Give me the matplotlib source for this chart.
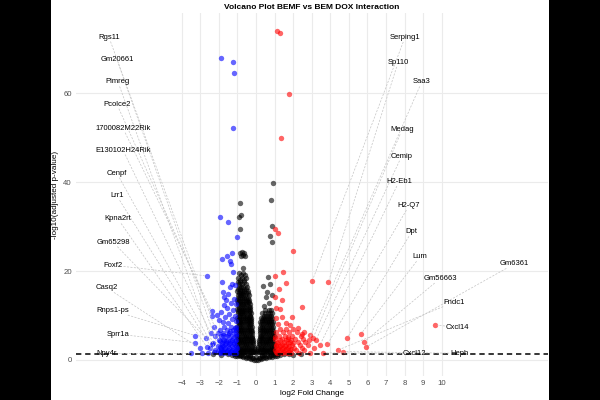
import matplotlib.pyplot as plt
import numpy as np

plt.rcParams['font.family'] = ['Liberation Sans', 'DejaVu Sans']

# not significant / small fold change (log2FC, -log10 padj)
ns_points = [
    (0.9, 39.7), (0.8, 36.0), (-0.86, 35.3), (-0.92, 32.2), (-0.79, 32.6), (0.88, 30.1),
    (-0.86, 29.4), (0.75, 27.9), (0.86, 26.5), (-0.86, 24.0), (-0.75, 24.2), (-0.65, 24.0),
    (-0.8, 23.4), (-0.7, 23.5), (-0.6, 23.4),
    (-0.68, 20.6), (-0.68, 19.5), (-0.9, 19.5), (-0.8, 19.0), (-0.6, 19.0),
    (-0.95, 18.4), (-0.75, 18.4), (-0.55, 18.4), (-0.88, 18.0), (-0.66, 18.0),
    (-0.98, 17.5), (-0.85, 17.5), (-0.62, 17.5), (-0.92, 17.0), (-0.74, 17.0), (-0.55, 17.0),
    (-0.92, 16.5), (-0.8, 16.5), (-0.72, 16.5), (-0.5, 16.5),
    (-0.98, 16.0), (-0.86, 16.0), (-0.66, 16.0), (-0.56, 16.0),
    (-1.0, 15.5), (-0.85, 15.5), (-0.75, 15.5), (-0.65, 15.5), (-0.45, 15.5),
    (-0.94, 15.0), (-0.8, 15.0), (-0.7, 15.0), (-0.55, 15.0), (-0.42, 15.0),
    (-0.95, 14.5), (-0.88, 14.5), (-0.8, 14.5), (-0.7, 14.5), (-0.6, 14.5), (-0.4, 14.5),
    (-0.98, 14.0), (-0.84, 14.0), (-0.74, 14.0), (-0.66, 14.0), (-0.54, 14.0), (-0.45, 14.0),
    (-1.0, 13.5), (-0.9, 13.5), (-0.78, 13.5), (-0.62, 13.5), (-0.5, 13.5), (-0.35, 13.5),
    (-0.96, 13.0), (-0.84, 13.0), (-0.72, 13.0), (-0.56, 13.0), (-0.44, 13.0), (-0.38, 13.0),
    (-0.98, 12.5), (-0.86, 12.5), (-0.74, 12.5), (-0.68, 12.5), (-0.6, 12.5), (-0.48, 12.5), (-0.32, 12.5),
    (-0.94, 12.0), (-0.8, 12.0), (-0.64, 12.0), (-0.54, 12.0), (-0.4, 12.0), (-0.34, 12.0),
    (-1.0, 11.5), (-0.9, 11.5), (-0.8, 11.5), (-0.7, 11.5), (-0.58, 11.5), (-0.44, 11.5), (-0.3, 11.5),
    (-0.96, 11.0), (-0.85, 11.0), (-0.74, 11.0), (-0.64, 11.0), (-0.52, 11.0), (-0.38, 11.0), (-0.32, 11.0),
    (-0.98, 10.5), (-0.88, 10.5), (-0.82, 10.5), (-0.76, 10.5), (-0.64, 10.5), (-0.52, 10.5), (-0.4, 10.5), (-0.28, 10.5),
    (-0.94, 10.0), (-0.84, 10.0), (-0.7, 10.0), (-0.58, 10.0), (-0.46, 10.0), (-0.34, 10.0), (-0.3, 10.0),
    (-1.0, 9.5), (-0.9, 9.5), (-0.8, 9.5), (-0.7, 9.5), (-0.6, 9.5), (-0.48, 9.5), (-0.36, 9.5), (-0.26, 9.5),
    (-0.96, 9.0), (-0.84, 9.0), (-0.68, 9.0), (-0.56, 9.0), (-0.44, 9.0), (-0.32, 9.0), (-0.28, 9.0),
    (-0.98, 8.5), (-0.92, 8.5), (-0.86, 8.5), (-0.74, 8.5), (-0.62, 8.5), (-0.5, 8.5), (-0.38, 8.5), (-0.26, 8.5),
    (-0.94, 8.0), (-0.8, 8.0), (-0.68, 8.0), (-0.56, 8.0), (-0.44, 8.0), (-0.32, 8.0), (-0.27, 8.0),
    (-1.0, 7.5), (-0.9, 7.5), (-0.8, 7.5), (-0.68, 7.5), (-0.56, 7.5), (-0.44, 7.5), (-0.32, 7.5), (-0.24, 7.5),
    (-0.96, 7.0), (-0.84, 7.0), (-0.74, 7.0), (-0.62, 7.0), (-0.5, 7.0), (-0.38, 7.0), (-0.28, 7.0),
    (-0.98, 6.5), (-0.86, 6.5), (-0.74, 6.5), (-0.62, 6.5), (-0.5, 6.5), (-0.38, 6.5), (-0.28, 6.5), (-0.22, 6.5),
    (-0.94, 6.0), (-0.82, 6.0), (-0.7, 6.0), (-0.58, 6.0), (-0.46, 6.0), (-0.34, 6.0), (-0.24, 6.0),
    (-1.0, 5.5), (-0.9, 5.5), (-0.78, 5.5), (-0.66, 5.5), (-0.54, 5.5), (-0.42, 5.5), (-0.3, 5.5), (-0.2, 5.5),
    (-0.96, 5.0), (-0.84, 5.0), (-0.72, 5.0), (-0.6, 5.0), (-0.48, 5.0), (-0.36, 5.0), (-0.24, 5.0), (-0.19, 5.0),
    (-0.98, 4.5), (-0.86, 4.5), (-0.74, 4.5), (-0.62, 4.5), (-0.5, 4.5), (-0.38, 4.5), (-0.26, 4.5), (-0.18, 4.5),
    (-0.94, 4.0), (-0.82, 4.0), (-0.7, 4.0), (-0.58, 4.0), (-0.46, 4.0), (-0.34, 4.0), (-0.22, 4.0), (-0.16, 4.0),
    (-1.0, 3.5), (-0.9, 3.5), (-0.78, 3.5), (-0.66, 3.5), (-0.54, 3.5), (-0.42, 3.5), (-0.3, 3.5), (-0.15, 3.5),
    (-0.96, 3.0), (-0.84, 3.0), (-0.72, 3.0), (-0.6, 3.0), (-0.48, 3.0), (-0.36, 3.0), (-0.24, 3.0), (-0.13, 3.0),
    (-0.98, 2.5), (-0.86, 2.5), (-0.74, 2.5), (-0.62, 2.5), (-0.5, 2.5), (-0.38, 2.5), (-0.26, 2.5), (-0.1, 2.5),
    (-0.94, 2.1), (-0.82, 2.1), (-0.7, 2.1), (-0.58, 2.1), (-0.46, 2.1), (-0.34, 2.1), (-0.22, 2.1), (-0.1, 2.1),
    (-1.0, 1.7), (-0.88, 1.7), (-0.76, 1.7), (-0.64, 1.7), (-0.52, 1.7), (-0.4, 1.7), (-0.28, 1.7), (-0.16, 1.7), (-0.06, 1.7),
    (0.63, 18.7), (0.75, 17.1), (0.39, 16.6), (0.61, 15.3), (0.84, 14.6), (0.54, 14.1), (0.7, 12.8), (0.45, 12.2),
    (0.5, 11.3), (0.68, 11.3), (0.8, 11.3),
    (0.35, 10.5), (0.5, 10.5), (0.62, 10.5), (0.74, 10.5), (0.85, 10.5),
    (0.42, 10.0), (0.56, 10.0), (0.68, 10.0), (0.8, 10.0),
    (0.25, 9.5), (0.38, 9.5), (0.5, 9.5), (0.62, 9.5), (0.74, 9.5), (0.86, 9.5),
    (0.3, 9.0), (0.44, 9.0), (0.56, 9.0), (0.68, 9.0), (0.8, 9.0),
    (0.22, 8.5), (0.34, 8.5), (0.46, 8.5), (0.58, 8.5), (0.7, 8.5), (0.82, 8.5), (0.92, 8.5),
    (0.26, 8.0), (0.4, 8.0), (0.52, 8.0), (0.64, 8.0), (0.76, 8.0), (0.88, 8.0),
    (0.2, 7.5), (0.32, 7.5), (0.44, 7.5), (0.56, 7.5), (0.68, 7.5), (0.8, 7.5), (0.92, 7.5),
    (0.24, 7.0), (0.38, 7.0), (0.5, 7.0), (0.62, 7.0), (0.74, 7.0), (0.86, 7.0),
    (0.2, 6.5), (0.3, 6.5), (0.42, 6.5), (0.54, 6.5), (0.66, 6.5), (0.78, 6.5), (0.9, 6.5),
    (0.22, 6.0), (0.36, 6.0), (0.48, 6.0), (0.6, 6.0), (0.72, 6.0), (0.84, 6.0), (0.94, 6.0),
    (0.19, 5.5), (0.27, 5.5), (0.39, 5.5), (0.51, 5.5), (0.63, 5.5), (0.75, 5.5), (0.87, 5.5), (0.97, 5.5),
    (0.2, 5.0), (0.33, 5.0), (0.45, 5.0), (0.57, 5.0), (0.69, 5.0), (0.81, 5.0), (0.93, 5.0),
    (0.17, 4.5), (0.28, 4.5), (0.4, 4.5), (0.52, 4.5), (0.64, 4.5), (0.76, 4.5), (0.88, 4.5),
    (0.16, 4.0), (0.3, 4.0), (0.42, 4.0), (0.54, 4.0), (0.66, 4.0), (0.78, 4.0), (0.9, 4.0),
    (0.14, 3.5), (0.24, 3.5), (0.36, 3.5), (0.48, 3.5), (0.6, 3.5), (0.72, 3.5), (0.84, 3.5), (0.96, 3.5),
    (0.12, 3.0), (0.26, 3.0), (0.38, 3.0), (0.5, 3.0), (0.62, 3.0), (0.74, 3.0), (0.86, 3.0), (0.97, 3.0),
    (0.1, 2.5), (0.2, 2.5), (0.32, 2.5), (0.44, 2.5), (0.56, 2.5), (0.68, 2.5), (0.8, 2.5), (0.92, 2.5),
    (0.08, 2.1), (0.24, 2.1), (0.36, 2.1), (0.48, 2.1), (0.6, 2.1), (0.72, 2.1), (0.84, 2.1), (0.96, 2.1),
    (0.06, 1.7), (0.18, 1.7), (0.3, 1.7), (0.42, 1.7), (0.54, 1.7), (0.66, 1.7), (0.78, 1.7), (0.9, 1.7), (0.99, 1.7),
    (-2.3, 1.25), (-1.9, 1.22), (-1.5, 1.25), (-1.3, 1.2), (-1.15, 1.0), (-1.0, 0.9), (-0.85, 0.8),
    (-0.7, 0.6), (-0.55, 0.5), (-0.4, 0.35), (-0.25, 0.2), (-0.1, 0.05), (0.0, 0.0), (0.1, 0.05),
    (0.25, 0.2), (0.4, 0.35), (0.55, 0.5), (0.7, 0.6), (0.85, 0.75), (1.0, 0.9), (1.15, 1.0),
    (1.3, 1.2), (1.5, 1.25), (1.8, 1.27), (2.0, 1.22), (2.4, 1.26),
    (-1.2, 1.25), (-0.9, 1.1), (-0.6, 1.0), (-0.45, 1.1), (-0.3, 0.8), (-0.15, 0.5), (0.0, 0.6),
    (0.15, 0.5), (0.3, 0.8), (0.45, 1.1), (0.6, 1.0), (0.9, 1.1), (1.2, 1.25),
    (-0.8, 1.2), (-0.3, 1.2), (0.3, 1.2), (0.8, 1.2), (-1.0, 1.25), (1.0, 1.25),
    (-0.5, 0.75), (0.5, 0.75), (-0.2, 0.35), (0.2, 0.35), (-0.75, 1.0), (0.75, 1.0),
]

# significantly down (blue)
down_points = [
    (-1.88, 67.9), (-1.22, 66.9), (-1.17, 64.6), (-1.22, 52.1), (-1.94, 32.1), (-1.49, 31.0),
    (-1.04, 27.7), (-1.27, 24.1), (-1.58, 23.4), (-1.83, 22.8), (-1.4, 22.2), (-1.33, 21.6),
    (-1.22, 19.8), (-2.66, 18.9), (-1.81, 17.6), (-1.4, 16.5), (-1.27, 17.1), (-1.13, 16.9),
    (-1.78, 15.3), (-1.72, 14.2), (-1.63, 13.5), (-2.39, 11.1), (-2.35, 9.9),
    (-1.5, 14.8), (-1.2, 13.8), (-1.35, 12.9), (-1.7, 12.3), (-1.1, 12.5), (-1.55, 11.6),
    (-1.25, 11.2), (-1.9, 10.8), (-2.1, 10.2), (-1.45, 10.4), (-1.15, 10.0), (-1.65, 9.6),
    (-1.3, 9.2), (-2.0, 9.0), (-1.08, 8.8), (-1.8, 8.5), (-1.5, 8.3),
    (-2.25, 7.5), (-1.7, 7.5), (-1.35, 7.5), (-1.1, 7.5),
    (-1.95, 6.8), (-1.55, 6.8), (-1.25, 6.8), (-1.05, 6.8),
    (-2.44, 6.0), (-2.05, 6.0), (-1.75, 6.0), (-1.45, 6.0), (-1.2, 6.0),
    (-2.2, 5.3), (-1.9, 5.3), (-1.6, 5.3), (-1.35, 5.3), (-1.1, 5.3),
    (-2.0, 4.6), (-1.7, 4.6), (-1.5, 4.6), (-1.28, 4.6), (-1.05, 4.6),
    (-1.95, 4.2), (-2.3, 3.9), (-1.85, 3.9), (-1.62, 3.9), (-1.4, 3.9), (-1.18, 3.9),
    (-2.05, 3.2), (-1.95, 3.0), (-1.75, 3.2), (-1.52, 3.2), (-1.3, 3.2), (-1.08, 3.2),
    (-2.45, 2.6), (-1.88, 2.6), (-1.66, 2.6), (-1.44, 2.6), (-1.22, 2.6), (-1.04, 2.6),
    (-2.2, 2.2), (-2.02, 2.0), (-1.8, 2.0), (-1.58, 2.0), (-1.36, 2.0), (-1.14, 2.0),
    (-2.25, 1.8), (-2.6, 1.5), (-1.92, 1.5), (-1.7, 1.5), (-1.48, 1.5), (-1.26, 1.5), (-1.06, 1.5),
    (-3.52, 1.5), (-3.28, 5.5), (-3.28, 3.9), (-3.02, 2.6), (-2.69, 4.9), (-2.66, 3.0),
    (-2.39, 3.6), (-2.9, 1.6),
    (-1.15, 1.8), (-1.35, 1.75), (-1.55, 1.7), (-1.75, 1.75), (-1.95, 1.85),
    (-1.1, 2.4), (-1.3, 2.35), (-1.5, 2.35), (-1.7, 2.4), (-1.9, 2.3),
    (-1.2, 3.6), (-1.45, 3.55), (-1.65, 3.5), (-1.85, 3.45),
    (-1.15, 4.3), (-1.38, 4.25), (-1.6, 4.3), (-1.8, 4.4),
    (-1.25, 5.0), (-1.5, 5.6), (-1.8, 5.7), (-1.05, 5.9), (-1.4, 6.5), (-1.15, 7.1),
]

# significantly up (red)
up_points = [
    (1.11, 74.0), (1.27, 73.6), (1.79, 59.7), (1.33, 50.0), (1.02, 29.4), (1.17, 28.5),
    (1.97, 24.5), (3.03, 17.8), (3.9, 17.6), (1.47, 19.7), (1.6, 17.4), (1.02, 18.9),
    (1.25, 16.0), (2.49, 11.8), (1.42, 13.5), (1.02, 14.1), (1.92, 9.7), (2.24, 7.1),
    (2.46, 5.8), (1.06, 11.6), (1.29, 11.5), (1.42, 9.6), (1.08, 9.5), (2.91, 5.6),
    (3.23, 4.5), (3.45, 3.4), (3.84, 3.5), (4.92, 5.0), (5.64, 5.8), (5.83, 4.1),
    (5.92, 2.9), (9.64, 7.9), (2.85, 4.6), (3.07, 4.9), (4.4, 2.2), (3.6, 1.6), (4.7, 1.9),
    (1.3, 7.0), (1.6, 7.0), (2.0, 7.0),
    (1.1, 6.2), (1.45, 6.2), (1.8, 6.2), (2.2, 6.2), (2.6, 6.2),
    (1.25, 5.5), (1.55, 5.5), (1.95, 5.5), (2.4, 5.5),
    (1.05, 4.8), (1.4, 4.8), (1.7, 4.8), (2.1, 4.8), (2.55, 4.8),
    (1.2, 4.1), (1.5, 4.1), (1.85, 4.1), (2.25, 4.1), (2.65, 4.1),
    (1.08, 3.4), (1.35, 3.4), (1.62, 3.4), (1.95, 3.4), (2.35, 3.4), (2.8, 3.4),
    (1.2, 2.8), (1.45, 2.8), (1.72, 2.8), (2.05, 2.8), (2.5, 2.8), (3.1, 2.8),
    (1.05, 2.2), (1.3, 2.2), (1.55, 2.2), (1.82, 2.2), (2.15, 2.2), (2.6, 2.2),
    (1.15, 1.6), (1.4, 1.6), (1.65, 1.6), (1.9, 1.6), (2.3, 1.6), (2.9, 1.6),
    (1.1, 1.8), (1.3, 1.85), (1.5, 1.8), (1.75, 1.9), (1.2, 2.5), (1.4, 2.5), (1.6, 2.55), (1.9, 2.5),
    (1.1, 3.1), (1.3, 3.1), (1.55, 3.05), (1.8, 3.1), (1.15, 3.75), (1.4, 3.7), (1.7, 3.75), (2.0, 3.8),
    (1.3, 4.45), (1.6, 4.45), (1.9, 4.5), (1.05, 5.2), (1.7, 5.15), (1.2, 8.2), (1.6, 8.4), (1.85, 7.8),
]

# labelled genes: name, label position, gene position
lab_names = ['Rgs11', 'Gm20661', 'Pimreg', 'Pcolce2', '1700082M22Rik', 'E130102H24Rik',
             'Cenpf', 'Lrr1', 'Kpna2rt', 'Gm65298', 'Foxf2', 'Casq2', 'Rnps1-ps', 'Sprr1a', 'Npy4r',
             'Serping1', 'Sp110', 'Saa3', 'Medag', 'Cemip', 'H2-Eb1', 'H2-Q7', 'Dpt', 'Lum',
             'Gm56663', 'Gm6361', 'Fndc1', 'Cxcl14', 'Cxcl12', 'Heph']
lab_x = [-7.92, -7.49, -7.43, -7.49, -7.16, -7.16, -7.49, -7.49, -7.43, -7.70, -7.70, -8.02, -7.70, -7.43, -8.02,
         8.02, 7.65, 8.92, 7.86, 7.84, 7.70, 8.24, 8.38, 8.83, 9.91, 13.91, 10.66, 10.86, 8.51, 10.94]
lab_y = [72.6, 67.6, 62.5, 57.5, 52.1, 47.2, 42.0, 36.9, 31.7, 26.5, 21.3, 16.2, 11.1, 5.8, 1.5,
         72.5, 66.9, 62.5, 51.7, 45.8, 40.1, 34.7, 28.8, 23.2, 18.3, 21.6, 13.0, 7.3, 1.5, 1.5]
lab_fc = [-1.95, -2.05, -2.2, -2.35, -2.39, -2.44, -2.39, -2.25, -2.66, -2.69, -2.66, -3.02, -3.28, -3.28, -3.52,
          3.03, 3.9, 2.85, 3.07, 3.23, 3.45, 3.84, 4.92, 5.64, 5.83, 5.92, 4.4, 9.64, 3.6, 4.7]
lab_p = [4.2, 3.2, 2.2, 9.9, 11.1, 6.0, 3.6, 1.8, 3.0, 4.9, 18.9, 2.6, 5.5, 3.9, 1.5,
         17.8, 17.6, 4.6, 4.9, 4.5, 3.4, 3.5, 5.0, 5.8, 4.1, 2.9, 2.2, 7.9, 1.6, 1.9]

p_cut = -np.log10(0.05)

fig = plt.figure(figsize=(6, 4), dpi=100, facecolor='black')
fig.patches.append(plt.Rectangle((51 / 600, 0), 498 / 600, 1, transform=fig.transFigure,
                                 facecolor='white', edgecolor='none', zorder=-10))
ax = fig.add_axes([76 / 600, 24 / 400, 472 / 600, 363 / 400])
ax.set_facecolor('white')

ns = np.array(ns_points)
dn = np.array(down_points)
up = np.array(up_points)
ax.scatter(ns[:, 0], ns[:, 1], s=15, color='black', alpha=0.6, linewidths=0, zorder=2)
ax.scatter(dn[:, 0], dn[:, 1], s=15, color='blue', alpha=0.6, linewidths=0, zorder=2)
ax.scatter(up[:, 0], up[:, 1], s=15, color='red', alpha=0.6, linewidths=0, zorder=2)

ax.axhline(p_cut, color='black', lw=1.1, ls=(0, (3.5, 2.5)), zorder=3.5)

ax.set_xlim(-9.69, 15.72)
ax.set_ylim(-3.6, 78.0)
ax.set_xticks(range(-4, 11))
ax.set_yticks([0, 20, 40, 60])
ax.grid(True, color='#ebebeb', lw=0.8, zorder=0)
ax.set_axisbelow(True)
for s in ax.spines.values():
    s.set_visible(False)
ax.tick_params(length=0, labelsize=5.6, colors='#4d4d4d', pad=3)
ax.set_xlabel('log2 Fold Change', fontsize=5.9, labelpad=2)
ax.set_ylabel('-log10(adjusted p-value)', fontsize=5.9, labelpad=3)
ax.set_title('Volcano Plot BEMF vs BEM DOX Interaction', fontsize=6, fontweight='bold', pad=3)

texts = []
for name, x, y in zip(lab_names, lab_x, lab_y):
    texts.append(ax.text(x, y, name, fontsize=5.5, ha='center', va='center', zorder=5))

# dashed connectors from label box to gene point
fig.canvas.draw()
renderer = fig.canvas.get_renderer()
inv = ax.transData.inverted()
for t, fc, p in zip(texts, lab_fc, lab_p):
    bb = t.get_window_extent(renderer)
    cx, cy = (bb.x0 + bb.x1) / 2, (bb.y0 + bb.y1) / 2
    px, py = ax.transData.transform((fc, p))
    dx, dy = px - cx, py - cy
    sx = (bb.width / 2 + 1) / abs(dx) if dx != 0 else np.inf
    sy = (bb.height / 2 + 1) / abs(dy) if dy != 0 else np.inf
    k = min(sx, sy)
    if k >= 1:
        continue
    L = np.hypot(dx, dy)
    (x0, y0), (x1, y1) = inv.transform([(cx + dx * k, cy + dy * k),
                                        (px - dx / L * 2, py - dy / L * 2)])
    ax.plot([x0, x1], [y0, y1], color='#c4c4c4', lw=0.5, ls=(0, (3, 2)), zorder=4)

fig.savefig('out.png', dpi=100, facecolor=fig.get_facecolor())
